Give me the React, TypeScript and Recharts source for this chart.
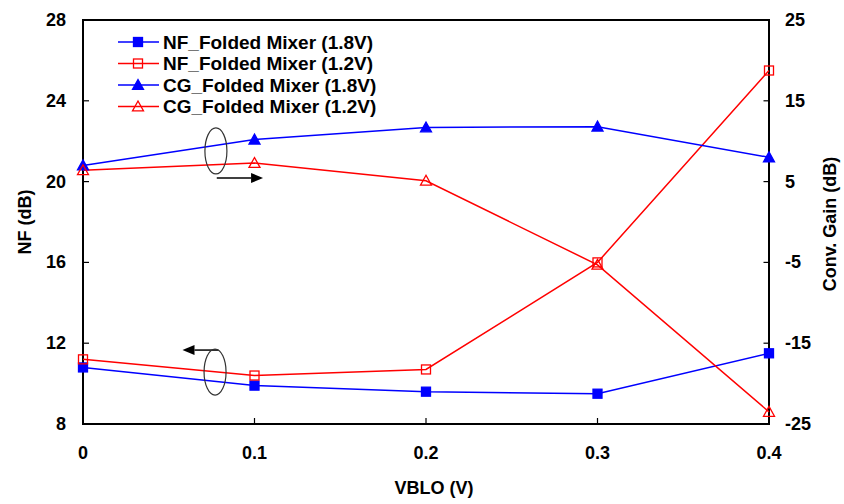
import React from 'react';
import {
  LineChart,
  Line,
  XAxis,
  YAxis,
  Legend,
  ReferenceArea,
  ReferenceDot,
  ReferenceLine,
} from 'recharts';

// VBLO sweep (V)
const vblo = [0, 0.1, 0.2, 0.3, 0.4];
// noise figure, left axis (dB)
const nf18 = [10.8, 9.9, 9.6, 9.5, 11.5];
const nf12 = [11.2, 10.4, 10.7, 16.0, 25.5];
// conversion gain, right axis (dB)
const cg18 = [7.0, 10.2, 11.7, 11.8, 8.0];
const cg12 = [6.4, 7.3, 5.1, -5.3, -23.5];

const xTicks = [0, 0.1, 0.2, 0.3, 0.4];
const nfTicks = [8, 12, 16, 20, 24, 28];
const cgTicks = [-25, -15, -5, 5, 15, 25];

const BLUE = '#0000ff';
const RED = '#ff0000';
const FONT = "'Liberation Sans', Arial, sans-serif";

const data = vblo.map((v, i) => ({
  vblo: v,
  nf18: nf18[i],
  nf12: nf12[i],
  cg18: cg18[i],
  cg12: cg12[i],
}));

type Shape = 'square' | 'triangle';

const Marker = ({ cx, cy, shape, color, filled }: any) => {
  const fill = filled ? color : 'none';
  if (shape === 'square') {
    return <rect x={cx - 4.5} y={cy - 4.5} width={9} height={9} fill={fill} stroke={color} strokeWidth={1.3} />;
  }
  const s = 5.5;
  return (
    <polygon
      points={`${cx},${cy - s} ${cx + s},${cy + s * 0.8} ${cx - s},${cy + s * 0.8}`}
      fill={fill}
      stroke={color}
      strokeWidth={1.3}
    />
  );
};

const dotFor = (shape: Shape, color: string, filled: boolean) => (props: any) => (
  <Marker key={props.index} cx={props.cx} cy={props.cy} shape={shape} color={color} filled={filled} />
);

const legendItems = [
  { label: 'NF_Folded Mixer (1.8V)', shape: 'square', color: BLUE, filled: true },
  { label: 'NF_Folded Mixer (1.2V)', shape: 'square', color: RED, filled: false },
  { label: 'CG_Folded Mixer (1.8V)', shape: 'triangle', color: BLUE, filled: true },
  { label: 'CG_Folded Mixer (1.2V)', shape: 'triangle', color: RED, filled: false },
];

const renderLegend = () => (
  <svg width={300} height={92}>
    {legendItems.map((it, i) => {
      const y = 12 + i * 21.5;
      return (
        <g key={it.label}>
          <line x1={8} x2={49} y1={y} y2={y} stroke={it.color} strokeWidth={1.5} />
          <Marker cx={28} cy={y} shape={it.shape} color={it.color} filled={it.filled} />
          <text x={53} y={y} dominantBaseline="central" fontFamily={FONT} fontWeight="bold" fontSize={19} fill="#000">
            {it.label}
          </text>
        </g>
      );
    })}
  </svg>
);

const Ellipse = ({ cx, cy }: any) => (
  <ellipse cx={cx} cy={cy} rx={11} ry={23} fill="none" stroke="#333" strokeWidth={1.2} />
);

const Arrow = ({ x1, y1, x2, y2 }: any) => {
  const dir = x2 > x1 ? 1 : -1;
  const tip = x2;
  const base = x2 - dir * 12;
  return (
    <g>
      <line x1={x1} y1={y1} x2={base} y2={y2} stroke="#000" strokeWidth={1.5} />
      <polygon points={`${tip},${y2} ${base},${y2 - 5} ${base},${y2 + 5}`} fill="#000" />
    </g>
  );
};

// plot frame drawn from the corners of the reference area
const Frame = ({ x, y, width, height }: any) => (
  <rect x={x} y={y} width={width} height={height} fill="none" stroke="#000" strokeWidth={2} />
);

const tickStyle = { fontFamily: FONT, fontWeight: 'bold', fontSize: 18, fill: '#000' };

// inward tick marks plus the label
const makeTick = (side: 'left' | 'right' | 'bottom') => (props: any) => {
  const { x, y, payload } = props;
  const c = payload.coordinate;
  if (side === 'bottom') {
    return (
      <g>
        <line x1={c} x2={c} y1={424} y2={418} stroke="#000" strokeWidth={1.2} />
        <text x={x} y={y} textAnchor="middle" dominantBaseline="central" {...tickStyle}>
          {payload.value}
        </text>
      </g>
    );
  }
  const ax = side === 'left' ? 83 : 769.5;
  const dir = side === 'left' ? 1 : -1;
  return (
    <g>
      <line x1={ax} x2={ax + dir * 6} y1={c} y2={c} stroke="#000" strokeWidth={1.2} />
      <text x={x} y={y} textAnchor={side === 'left' ? 'end' : 'start'} dominantBaseline="central" {...tickStyle}>
        {payload.value}
      </text>
    </g>
  );
};

const leftTitle = ({ viewBox }: any) => (
  <text
    x={viewBox.x + 25}
    y={viewBox.y + viewBox.height / 2}
    transform={`rotate(-90, ${viewBox.x + 25}, ${viewBox.y + viewBox.height / 2})`}
    textAnchor="middle"
    dominantBaseline="central"
    fontFamily={FONT}
    fontWeight="bold"
    fontSize={18}
    fill="#000"
  >
    NF (dB)
  </text>
);

const rightTitle = ({ viewBox }: any) => (
  <text
    x={viewBox.x + 61}
    y={viewBox.y + viewBox.height / 2 + 2}
    transform={`rotate(-90, ${viewBox.x + 61}, ${viewBox.y + viewBox.height / 2 + 2})`}
    textAnchor="middle"
    dominantBaseline="central"
    fontFamily={FONT}
    fontWeight="bold"
    fontSize={18}
    fill="#000"
  >
    Conv. Gain (dB)
  </text>
);

const bottomTitle = ({ viewBox }: any) => (
  <text
    x={viewBox.x + viewBox.width / 2 + 8}
    y={viewBox.y + 64}
    textAnchor="middle"
    dominantBaseline="central"
    fontFamily={FONT}
    fontWeight="bold"
    fontSize={18}
    fill="#000"
  >
    VBLO (V)
  </text>
);

export default function App() {
  return (
    <div style={{ position: 'absolute', left: 0, top: 0, width: 844, height: 504, background: '#fff' }}>
      <LineChart width={844} height={504} data={data} margin={{ top: 20, right: 0, bottom: 0, left: 0 }}>
        <XAxis
          dataKey="vblo"
          type="number"
          domain={[0, 0.4]}
          ticks={xTicks}
          tick={makeTick('bottom')}
          tickLine={false}
          tickSize={0}
          tickMargin={29}
          height={80}
          axisLine={false}
          label={bottomTitle}
        />
        <YAxis
          yAxisId="nf"
          domain={[8, 28]}
          ticks={nfTicks}
          tick={makeTick('left')}
          tickLine={false}
          tickSize={0}
          tickMargin={17}
          width={83}
          axisLine={false}
          label={leftTitle}
        />
        <YAxis
          yAxisId="cg"
          orientation="right"
          domain={[-25, 25]}
          ticks={cgTicks}
          tick={makeTick('right')}
          tickLine={false}
          tickSize={0}
          tickMargin={16}
          width={75}
          axisLine={false}
          label={rightTitle}
        />
        <ReferenceArea yAxisId="nf" x1={0} x2={0.4} y1={8} y2={28} ifOverflow="visible" shape={Frame} />
        <Legend
          layout="vertical"
          align="center"
          verticalAlign="middle"
          content={renderLegend}
          wrapperStyle={{ left: 110, top: 30, width: 300, height: 92 }}
        />
        <Line yAxisId="nf" dataKey="nf18" stroke={BLUE} strokeWidth={1.5} dot={dotFor('square', BLUE, true)} isAnimationActive={false} />
        <Line yAxisId="nf" dataKey="nf12" stroke={RED} strokeWidth={1.5} dot={dotFor('square', RED, false)} isAnimationActive={false} />
        <Line yAxisId="cg" dataKey="cg18" stroke={BLUE} strokeWidth={1.5} dot={dotFor('triangle', BLUE, true)} isAnimationActive={false} />
        <Line yAxisId="cg" dataKey="cg12" stroke={RED} strokeWidth={1.5} dot={dotFor('triangle', RED, false)} isAnimationActive={false} />

        {/* gain curves belong to the right axis */}
        <ReferenceDot yAxisId="cg" x={0.0775} y={8.8} shape={Ellipse} />
        <ReferenceLine
          yAxisId="cg"
          segment={[{ x: 0.078, y: 5.45 }, { x: 0.105, y: 5.45 }]}
          shape={Arrow}
        />
        {/* noise curves belong to the left axis */}
        <ReferenceDot yAxisId="nf" x={0.077} y={10.57} shape={Ellipse} />
        <ReferenceLine
          yAxisId="nf"
          segment={[{ x: 0.079, y: 11.66 }, { x: 0.058, y: 11.66 }]}
          shape={Arrow}
        />
      </LineChart>
    </div>
  );
}
